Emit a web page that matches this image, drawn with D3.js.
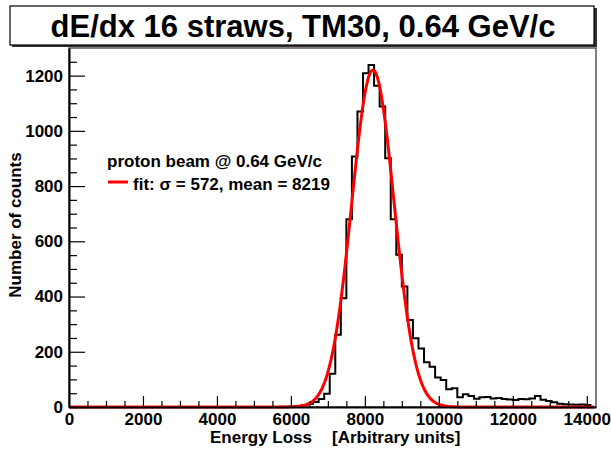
<!DOCTYPE html>
<html><head><meta charset="utf-8">
<script src="https://cdn.jsdelivr.net/npm/d3@7"></script>
<style>
body{margin:0;background:#fff;}
svg{display:block;font-family:"Liberation Sans",Arial,Helvetica,sans-serif;font-weight:bold;}
</style></head><body>
<svg id="c" width="611" height="452"></svg>
<script>
// ---- data ----
const titleText = "dE/dx 16 straws, TM30, 0.64 GeV/c";
const xTitleParts = ["Energy Loss", "[Arbitrary units]"];
const yTitle = "Number of counts";
const legendLines = ["proton beam @ 0.64 GeV/c", "fit: \u03c3 = 572, mean = 8219"];
const xTicks = [0, 2000, 4000, 6000, 8000, 10000, 12000, 14000];
const yTicks = [0, 200, 400, 600, 800, 1000, 1200];
const firstBin = 5700;      // lower edge of first listed bin
const binWidth = 150;
const counts = [1, 1, 2, 4, 7, 12, 18, 29, 48, 120, 262, 394, 680, 907, 1070, 1209, 1238, 1163, 1088, 901,
  680, 551, 436, 315, 249, 212, 162, 146, 107, 98, 64, 68, 35, 46, 40, 30, 35, 36, 31, 33,
  29, 27, 25, 29, 28, 31, 40, 26, 22, 17, 12, 10, 9, 8, 9, 7];
const fitAmp = 1220, fitMean = 8219, fitSigma = 572;
const xDomain = [0, 14250], yDomain = [0, 1300];

// ---- drawing ----
const svg = d3.select("#c");
const L = 69, R = 596, T = 48, B = 407;
const x = d3.scaleLinear().domain(xDomain).range([L, R]);
const y = d3.scaleLinear().domain(yDomain).range([B, T]);

// title box with shadow
svg.append("rect").attr("x", 12).attr("y", 8).attr("width", 585).attr("height", 39).attr("fill", "#333");
svg.append("rect").attr("x", 10).attr("y", 6).attr("width", 584).attr("height", 39)
  .attr("fill", "#fff").attr("stroke", "#000").attr("stroke-width", 1.2);
svg.append("text").attr("x", 303).attr("y", 37).attr("text-anchor", "middle")
  .attr("font-size", 31).attr("fill", "#000").text(titleText);

// frame
svg.append("rect").attr("x", L).attr("y", T).attr("width", R - L).attr("height", B - T)
  .attr("fill", "none").attr("stroke", "#555").attr("stroke-width", 1.5);

// histogram (steps)
const pts = [[0, 0], [firstBin, 0]];
counts.forEach((c, i) => { const lo = firstBin + i * binWidth; pts.push([lo, c], [lo + binWidth, c]); });
pts.push([firstBin + counts.length * binWidth, 0]);
svg.append("path").attr("d", d3.line().x(d => x(d[0])).y(d => y(d[1]))(pts))
  .attr("fill", "none").attr("stroke", "#000").attr("stroke-width", 2);

// fit curve
const fx = d3.range(0, 14200 + 1, 10);
svg.append("path").attr("d", d3.line().x(d => x(d)).y(d => y(fitAmp * Math.exp(-0.5 * ((d - fitMean) / fitSigma) ** 2)))(fx))
  .attr("fill", "none").attr("stroke", "#f00").attr("stroke-width", 3);

// axes
const xMinor = d3.range(0, 14250, 500).filter(v => v % 2000 !== 0);
const yMinor = d3.range(0, 1300, 50).filter(v => v % 200 !== 0);
const gx = svg.append("g").attr("transform", `translate(0,${B})`);
gx.call(d3.axisBottom(x).tickValues(xMinor).tickSize(-6).tickSizeOuter(0).tickFormat(""));
gx.call(g => g.select(".domain").remove());
const gx2 = svg.append("g").attr("transform", `translate(0,${B})`);
gx2.call(d3.axisBottom(x).tickValues(xTicks).tickSize(-11).tickSizeOuter(0).tickPadding(6).tickFormat(d3.format("d")));
const gy = svg.append("g").attr("transform", `translate(${L},0)`);
gy.call(d3.axisLeft(y).tickValues(yMinor).tickSize(-8).tickSizeOuter(0).tickFormat(""));
gy.call(g => g.select(".domain").remove());
const gy2 = svg.append("g").attr("transform", `translate(${L},0)`);
gy2.call(d3.axisLeft(y).tickValues(yTicks).tickSize(-16).tickSizeOuter(0).tickPadding(6).tickFormat(d3.format("d")));
svg.selectAll(".tick line").attr("stroke", "#000").attr("stroke-width", 1.2);
svg.selectAll(".domain").attr("stroke", "#000").attr("stroke-width", 2);
svg.selectAll(".tick text").attr("font-size", 17).attr("font-family", "Liberation Sans, Arial, sans-serif")
  .attr("font-weight", "bold").attr("fill", "#000");

// axis titles
svg.append("text").attr("x", 210).attr("y", 443).attr("font-size", 17).text(xTitleParts[0]);
svg.append("text").attr("x", 332).attr("y", 443).attr("font-size", 17).text(xTitleParts[1]);
svg.append("text").attr("transform", "translate(21,225) rotate(-90)").attr("text-anchor", "middle")
  .attr("font-size", 17).text(yTitle);

// legend
svg.append("text").attr("x", 107).attr("y", 167).attr("font-size", 17).text(legendLines[0]);
svg.append("line").attr("x1", 108).attr("x2", 128).attr("y1", 182).attr("y2", 182)
  .attr("stroke", "#f00").attr("stroke-width", 3);
svg.append("text").attr("x", 133).attr("y", 190).attr("font-size", 17).text(legendLines[1]);
</script>
</body></html>
